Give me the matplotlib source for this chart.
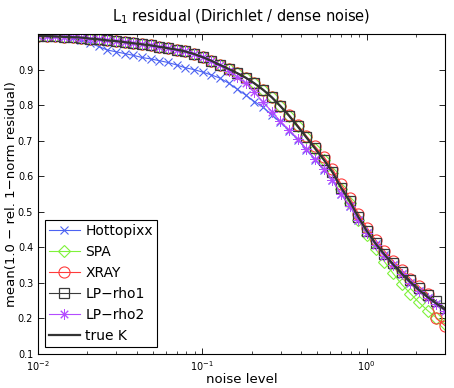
import numpy as np
import matplotlib
matplotlib.use("Agg")
import matplotlib.pyplot as plt
from matplotlib.ticker import LogLocator, NullFormatter, FixedLocator

# noise levels (log-spaced, 48 points from 1e-2 to 3)
noise = np.logspace(-2, np.log10(3.0), 48)

true_k = [0.995, 0.994, 0.993, 0.992, 0.991, 0.990, 0.987, 0.985, 0.982, 0.980,
          0.977, 0.974, 0.971, 0.968, 0.964, 0.960, 0.956, 0.951, 0.944, 0.935,
          0.925, 0.913, 0.902, 0.890, 0.877, 0.861, 0.843, 0.822, 0.797, 0.770,
          0.740, 0.709, 0.678, 0.647, 0.612, 0.568, 0.530, 0.485, 0.445, 0.410,
          0.380, 0.352, 0.326, 0.302, 0.280, 0.260, 0.242, 0.225]

hottopixx = [0.995, 0.994, 0.993, 0.991, 0.988, 0.983, 0.975, 0.965, 0.955, 0.950,
             0.945, 0.940, 0.934, 0.930, 0.925, 0.920, 0.913, 0.905, 0.900, 0.893,
             0.885, 0.876, 0.862, 0.845, 0.828, 0.810, 0.794, 0.772, 0.752, 0.728,
             0.703, 0.675, 0.646, 0.618, 0.588, 0.549, 0.516, 0.476, 0.440, 0.408,
             0.378, 0.350, 0.325, 0.300, 0.278, 0.258, 0.240, 0.222]

spa = [0.995, 0.994, 0.993, 0.992, 0.991, 0.990, 0.987, 0.985, 0.982, 0.980,
       0.977, 0.974, 0.971, 0.968, 0.964, 0.960, 0.956, 0.951, 0.944, 0.935,
       0.925, 0.913, 0.902, 0.890, 0.877, 0.861, 0.843, 0.822, 0.797, 0.770,
       0.740, 0.709, 0.677, 0.645, 0.609, 0.563, 0.524, 0.478, 0.435, 0.395,
       0.360, 0.327, 0.296, 0.270, 0.245, 0.222, 0.202, 0.185]

xray = [0.995, 0.994, 0.993, 0.992, 0.991, 0.990, 0.987, 0.985, 0.982, 0.980,
        0.977, 0.974, 0.971, 0.968, 0.964, 0.960, 0.956, 0.951, 0.944, 0.935,
        0.925, 0.913, 0.902, 0.890, 0.877, 0.861, 0.843, 0.822, 0.798, 0.772,
        0.743, 0.713, 0.684, 0.655, 0.621, 0.578, 0.540, 0.495, 0.455, 0.420,
        0.390, 0.362, 0.336, 0.312, 0.290, 0.270, 0.200, 0.180]

lp_rho1 = [0.995, 0.994, 0.993, 0.992, 0.991, 0.990, 0.987, 0.985, 0.982, 0.980,
           0.977, 0.974, 0.971, 0.968, 0.964, 0.960, 0.956, 0.951, 0.944, 0.935,
           0.925, 0.913, 0.902, 0.890, 0.877, 0.861, 0.843, 0.822, 0.797, 0.770,
           0.740, 0.709, 0.678, 0.646, 0.611, 0.567, 0.529, 0.485, 0.446, 0.412,
           0.382, 0.355, 0.330, 0.307, 0.285, 0.266, 0.248, 0.230]

lp_rho2 = [0.995, 0.994, 0.993, 0.992, 0.991, 0.990, 0.987, 0.985, 0.982, 0.980,
           0.977, 0.974, 0.971, 0.968, 0.964, 0.960, 0.956, 0.951, 0.944, 0.935,
           0.925, 0.913, 0.897, 0.880, 0.862, 0.836, 0.808, 0.782, 0.754, 0.730,
           0.705, 0.677, 0.648, 0.620, 0.590, 0.550, 0.517, 0.477, 0.440, 0.407,
           0.377, 0.350, 0.324, 0.300, 0.278, 0.258, 0.240, 0.222]

series = [
    ("Hottopixx", hottopixx, dict(color="#4d63f2", marker="x", ms=6, mew=0.8)),
    ("SPA", spa, dict(color="#7ff23a", marker="D", ms=6.5, mfc="none", mew=0.8)),
    ("XRAY", xray, dict(color="#ff3b3b", marker="o", ms=8, mfc="none", mew=0.8)),
    ("LP\u2212rho1", lp_rho1, dict(color="#3a3a3a", marker="s", ms=6.5, mfc="none", mew=0.9)),
    ("LP\u2212rho2", lp_rho2, dict(color="#b44cff", marker=(8, 2, 0), ms=7.5, mew=0.7)),
]

plt.rcParams['font.family'] = ['DejaVu Sans']
fig = plt.figure(figsize=(4.54, 3.88), dpi=100)
ax = fig.add_axes([38/454, 1-354/388, (445-38)/454, (354-34)/388])

for name, vals, st in series:
    ax.plot(noise, vals, label=name, lw=0.8, **st)
ax.plot(noise, true_k, color="#333333", lw=1.6, label="true K")

ax.set_xscale("log")
ax.set_xlim(1e-2, 3.0)
ax.set_ylim(0.1, 1.0)
ax.set_yticks(np.arange(0.1, 1.01, 0.1))
ax.set_yticklabels(["0.1", "0.2", "0.3", "0.4", "0.5", "0.6", "0.7", "0.8", "0.9", ""])
ax.xaxis.set_major_locator(FixedLocator([1e-2, 1e-1, 1e0]))
ax.set_xticklabels([r"$10^{-2}$", r"$10^{-1}$", r"$10^{0}$"])
ax.xaxis.set_minor_locator(LogLocator(base=10, subs=np.arange(2, 10), numticks=20))
ax.xaxis.set_minor_formatter(NullFormatter())
ax.tick_params(which="both", direction="in", top=True, right=True, labelsize=7)
ax.tick_params(which="major", length=4, width=0.6)
ax.tick_params(which="minor", length=2, width=0.5)
for s in ax.spines.values():
    s.set_linewidth(0.8)

ax.set_title(r"L$_1$ residual (Dirichlet / dense noise)", fontsize=10.5, pad=9)
ax.set_xlabel("noise level", fontsize=9.5, labelpad=0)
ax.set_ylabel("mean(1.0 \u2212 rel. 1\u2212norm residual)", fontsize=9.5)
ax.yaxis.set_label_coords(-0.05, 0.5)

leg = ax.legend(loc="lower left", fontsize=10, fancybox=False, edgecolor="black",
                framealpha=1, borderaxespad=0.5, handlelength=2.2, labelspacing=0.5,
                handletextpad=0.4, borderpad=0.3)
leg.get_frame().set_linewidth(0.8)

fig.savefig("out.png", dpi=100)
